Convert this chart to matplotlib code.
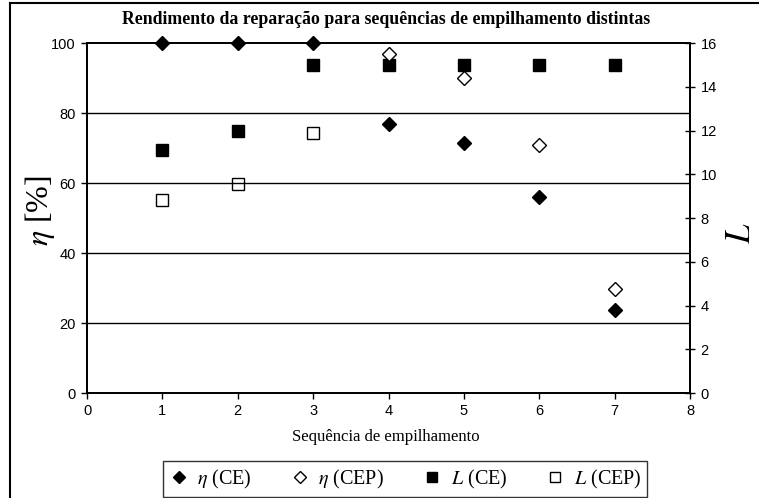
import matplotlib
matplotlib.use("Agg")
import matplotlib.pyplot as plt
from matplotlib.lines import Line2D

plt.rcParams['mathtext.fontset'] = 'stix'

x = [1, 2, 3, 4, 5, 6, 7]
eta_ce = [100, 100, 100, 77, 71.3, 56.1, 23.7]
eta_cep_x = [4, 5, 6, 7]
eta_cep = [97, 90, 71, 29.6]
L_ce = [11.1, 12.0, 15, 15, 15, 15, 15]
L_cep_x = [1, 2, 3]
L_cep = [8.8, 9.55, 11.9]

title = "Rendimento da reparação para sequências de empilhamento distintas"
xlabel = "Sequência de empilhamento"

W, H = 759, 498
fig = plt.figure(figsize=(W/100, H/100), dpi=100)
ax = fig.add_axes([87/W, 1-393/H, (690-87)/W, (393-43)/H])
ax2 = ax.twinx()

ax.set_xlim(0, 8)
ax.set_ylim(0, 100)
ax2.set_ylim(0, 16)
ax.set_xticks(range(0, 9))
ax.set_yticks(range(0, 101, 20))
ax2.set_yticks(range(0, 17, 2))

for yv in [20, 40, 60, 80]:
    ax.axhline(yv, color='black', lw=1.0, zorder=0)

for lab in ax.get_xticklabels() + ax.get_yticklabels() + ax2.get_yticklabels():
    lab.set_fontfamily('Liberation Sans')
    lab.set_fontsize(10.5)
ax.tick_params(axis='both', direction='out', length=4, width=1, color='black', pad=4)
ax2.tick_params(axis='y', direction='inout', length=7, width=1, color='black', pad=4)
for sp in ax.spines.values():
    sp.set_linewidth(1.3)
for sp in ax2.spines.values():
    sp.set_linewidth(1.3)

ms_d = 7.0
ms_s = 8.5
h1, = ax.plot(x, eta_ce, linestyle='none', marker='D', ms=ms_d, mfc='black', mec='black', clip_on=False, zorder=5, label=r'$\eta$ (CE)')
h2, = ax.plot(eta_cep_x, eta_cep, linestyle='none', marker='D', ms=ms_d, mfc='white', mec='black', mew=1.0, clip_on=False, zorder=5, label=r'$\eta$ (CEP)')
h3, = ax2.plot(x, L_ce, linestyle='none', marker='s', ms=ms_s, mfc='black', mec='black', clip_on=False, zorder=4, label=r'$L$ (CE)')
h4, = ax2.plot(L_cep_x, L_cep, linestyle='none', marker='s', ms=ms_s, mfc='white', mec='black', mew=1.0, clip_on=False, zorder=4, label=r'$L$ (CEP)')
ax.set_zorder(ax2.get_zorder() + 1)
ax.patch.set_visible(False)

fig.text(386/W, 1-19/H, title, ha='center', va='center', family='Liberation Serif', weight='bold', size=12.8)
fig.text(386/W, 1-437/H, xlabel, ha='center', va='center', family='Liberation Serif', size=12)
fig.text(40/W, 1-211/H, r'$\eta$ [%]', ha='center', va='center', rotation=90, family='Liberation Serif', size=23)
fig.text(741/W, 1-233/H, r'$L$', ha='center', va='center', rotation=90, family='Liberation Serif', size=25)

leg = fig.legend(handles=[h1, h2, h3, h4], loc='center', bbox_to_anchor=(405/W, 1-479/H), ncol=4,
                 frameon=True, fancybox=False, edgecolor='black', prop=dict(family='Liberation Serif', size=14.5),
                 handlelength=1.0, handletextpad=0.4, columnspacing=1.9, borderpad=0.3)
leg.get_frame().set_linewidth(1.0)
for hh in leg.legend_handles:
    hh.set_markersize(6.5)

fig.add_artist(Line2D([10/W, 10/W], [0, 1-3/H], transform=fig.transFigure, color='black', lw=1.5))
fig.add_artist(Line2D([10/W, 1], [1-3/H, 1-3/H], transform=fig.transFigure, color='black', lw=1.5))

fig.savefig('out.png', dpi=100)
